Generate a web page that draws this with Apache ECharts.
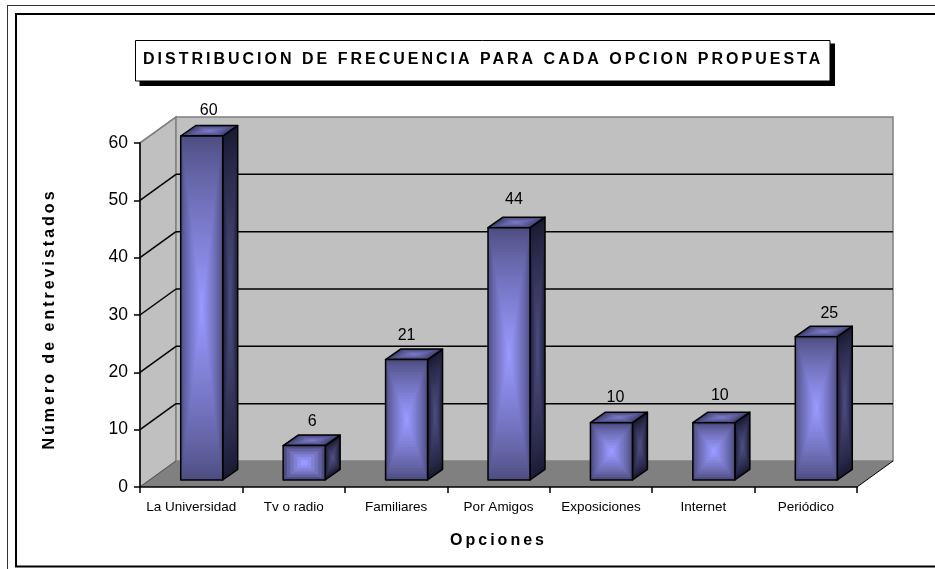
<!DOCTYPE html>
<html><head><meta charset="utf-8">
<style>html,body{margin:0;padding:0;background:#fff}#c{width:935px;height:569px}</style>
<script src="https://cdn.jsdelivr.net/npm/echarts@6/dist/echarts.min.js"></script>
</head><body><div id="c"></div>
<script>
const chartTitle = 'DISTRIBUCION DE FRECUENCIA PARA CADA OPCION PROPUESTA';
const xName = 'Opciones';
const yName = 'Número de entrevistados';
const categories = ['La Universidad','Tv o radio','Familiares','Por Amigos','Exposiciones','Internet','Periódico'];
const values = [60,6,21,44,10,10,25];
const yTicks = [0,10,20,30,40,50,60];

// Bold text in the reference is tracked out; the canvas API can do that directly.
const nativeFillText = CanvasRenderingContext2D.prototype.fillText;
CanvasRenderingContext2D.prototype.fillText = function (t, x, y, m) {
  this.letterSpacing = /bold/.test(this.font) ? '3px' : '0px';
  return m === undefined ? nativeFillText.call(this, t, x, y) : nativeFillText.call(this, t, x, y, m);
};

const DEPTH = [36, -26], BAR_SHIFT = [10.5, -7], BAR_DEPTH = [15, -10.5], LABEL_LIFT = 15;
// Hand placement of the value labels, relative to their default spot over each bar.
const LABEL_NUDGE = [[0,0],[1,1],[-7,1],[-2,-3],[-3,0],[-1,-2],[6,2]];
const mix = (a, b, t) => 'rgb(' + a.map((v, i) => Math.round(v + (b[i] - v) * t)).join(',') + ')';

// Rectangular "from centre" fill: the polygon repeated, shrinking towards its centre.
function pathFill(pts, edge, centre, steps) {
  const cx = pts.reduce((s, p) => s + p[0], 0) / pts.length;
  const cy = pts.reduce((s, p) => s + p[1], 0) / pts.length;
  const out = [];
  for (let i = 0; i < steps; i++) {
    const k = 1 - i / steps;
    out.push({ type: 'polygon', silent: true,
      shape: { points: pts.map(p => [cx + (p[0] - cx) * k, cy + (p[1] - cy) * k]) },
      style: { fill: mix(edge, centre, Math.pow(i / (steps - 1), 0.8)) } });
  }
  out.push({ type: 'polygon', silent: true, shape: { points: pts },
    style: { fill: 'none', stroke: '#000', lineWidth: 1.5, lineJoin: 'round' } });
  return out;
}

function renderWall(params, api) {
  const c = params.coordSys, L = c.x, R = c.x + c.width, T = c.y, B = c.y + c.height;
  const dx = DEPTH[0], dy = DEPTH[1];
  const kids = [];
  if (params.dataIndex === 0) {
    kids.push({ type: 'polygon', shape: { points: [[L, B], [L, T], [L + dx, T + dy], [L + dx, B + dy]] }, style: { fill: '#c0c0c0', stroke: '#808080', lineWidth: 1.5 } });
    kids.push({ type: 'polygon', shape: { points: [[L + dx, B + dy], [L + dx, T + dy], [R + dx, T + dy], [R + dx, B + dy]] }, style: { fill: '#c0c0c0', stroke: '#808080', lineWidth: 1.5 } });
    kids.push({ type: 'polygon', shape: { points: [[L, B], [L + dx, B + dy], [R + dx, B + dy], [R, B]] }, style: { fill: '#808080' } });
    kids.push({ type: 'line', shape: { x1: R, y1: B, x2: R + dx, y2: B + dy }, style: { stroke: '#000', lineWidth: 1 } });
    kids.push({ type: 'line', shape: { x1: L, y1: B, x2: L + dx, y2: B + dy }, style: { stroke: '#555', lineWidth: 1 } });
  } else {
    const y = api.coord([0, api.value(0)])[1];
    const top = api.value(0) === 60;
    const col = top ? '#808080' : '#000';
    kids.push({ type: 'line', shape: { x1: L, y1: y, x2: L + dx, y2: y + dy }, style: { stroke: col, lineWidth: 1.5 } });
    if (!top) kids.push({ type: 'line', shape: { x1: L + dx, y1: y + dy, x2: R + dx, y2: y + dy }, style: { stroke: col, lineWidth: 1.5 } });
  }
  return { type: 'group', children: kids };
}

function renderBar(params, api) {
  const top = api.coord([api.value(0), api.value(1)]);
  const base = api.coord([api.value(0), 0]);
  const w = api.size([1, 0])[0] * 0.41;
  const x0 = top[0] - w / 2 + BAR_SHIFT[0], x1 = x0 + w;
  const yT = top[1] + BAR_SHIFT[1], yB = base[1] + BAR_SHIFT[1];
  const dx = BAR_DEPTH[0], dy = BAR_DEPTH[1];
  const steps = Math.max(6, Math.round((yB - yT) / 6));
  const side = [[x1, yB], [x1, yT], [x1 + dx, yT + dy], [x1 + dx, yB + dy]];
  const cap = [[x0, yT], [x0 + dx, yT + dy], [x1 + dx, yT + dy], [x1, yT]];
  const front = [[x0, yB], [x0, yT], [x1, yT], [x1, yB]];
  const kids = [].concat(
    pathFill(side, [26, 26, 51], [77, 77, 128], steps),
    pathFill(cap, [66, 66, 115], [120, 120, 196], 6),
    pathFill(front, [77, 77, 128], [153, 153, 255], steps)
  );
  const nudge = LABEL_NUDGE[params.dataIndex];
  kids.push({ type: 'text', silent: true,
    style: { x: (x0 + x1) / 2 + 7 + nudge[0], y: yT + dy - LABEL_LIFT + nudge[1], text: String(api.value(1)), fill: '#000',
      font: '16px "Liberation Sans"', textAlign: 'center', textVerticalAlign: 'middle' } });
  return { type: 'group', children: kids };
}

const hline = (x1, y1, x2, y2, stroke, lineWidth) => ({ type: 'line', z: 0, silent: true, shape: { x1, y1, x2, y2 }, style: { stroke, lineWidth } });
const chart = echarts.init(document.getElementById('c'), null, { renderer: 'canvas' });
chart.setOption({
  animation: false,
  backgroundColor: '#fff',
  title: { text: chartTitle, left: 143, top: 52, padding: 0, z: 8,
    textStyle: { fontFamily: 'Liberation Sans', fontWeight: 'bold', fontSize: 16, color: '#000' } },
  graphic: [
    hline(7.5, 5, 7.5, 569, '#333', 1), hline(7, 5.5, 935, 5.5, '#333', 1),
    hline(16, 14, 16, 567, '#000', 2), hline(15, 14, 935, 14, '#000', 2), hline(15, 566.5, 935, 566.5, '#000', 2),
    { type: 'rect', z: 5, silent: true, shape: { x: 139.5, y: 43.5, width: 695.5, height: 42.5 }, style: { fill: '#000' } },
    { type: 'rect', z: 6, silent: true, shape: { x: 135.5, y: 40.5, width: 694.5, height: 40.5 }, style: { fill: '#fff', stroke: '#000', lineWidth: 1 } }
  ],
  grid: { left: 140, right: 78, top: 143, bottom: 82 },
  xAxis: { type: 'category', data: categories, z: 3, name: xName, nameLocation: 'middle', nameGap: 46,
    nameTextStyle: { fontFamily: 'Liberation Sans', fontWeight: 'bold', fontSize: 16, color: '#000' },
    axisLine: { lineStyle: { color: '#000', width: 1.5 } },
    axisTick: { show: true, alignWithLabel: false, length: 6, lineStyle: { color: '#000', width: 1.5 } },
    axisLabel: { interval: 0, margin: 13, fontFamily: 'Liberation Sans', fontSize: 13.5, color: '#000' },
    splitLine: { show: false } },
  yAxis: { type: 'value', min: 0, max: 60, interval: 10, z: 3, name: yName, nameLocation: 'middle', nameGap: 82,
    nameTextStyle: { fontFamily: 'Liberation Sans', fontWeight: 'bold', fontSize: 16, color: '#000', padding: [0, 8, 0, 0] },
    axisLine: { show: true, onZero: false, lineStyle: { color: '#000', width: 1.5 } },
    axisTick: { show: true, length: 6, lineStyle: { color: '#000', width: 1.5 } },
    axisLabel: { margin: 12, padding: [2, 0, 0, 0], fontFamily: 'Liberation Sans', fontSize: 17.5, color: '#000' },
    splitLine: { show: false } },
  series: [
    { type: 'custom', name: 'Paredes', z: 2, silent: true, clip: false, renderItem: renderWall,
      data: yTicks.map(v => [v]), encode: { y: 0 } },
    { type: 'custom', name: 'Entrevistados', z: 4, silent: true, clip: false, renderItem: renderBar,
      data: values.map((v, i) => [i, v]), encode: { x: 0, y: 1 } }
  ]
});
</script></body></html>
